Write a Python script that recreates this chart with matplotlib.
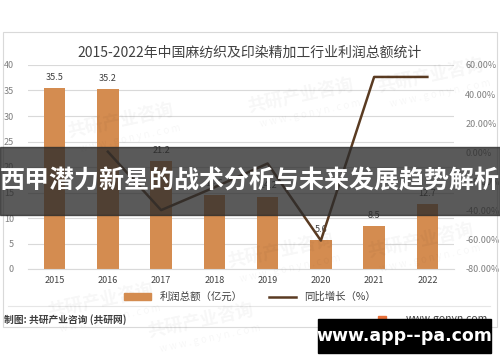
import matplotlib.pyplot as plt
from matplotlib.patches import Rectangle
from matplotlib.lines import Line2D

plt.rcParams['font.family'] = ['Noto Sans CJK SC', 'DejaVu Sans']

# data
years = ['2015', '2016', '2017', '2018', '2019', '2020', '2021', '2022']
profit = [35.5, 35.2, 21.2, 14.6, 14.2, 5.6, 8.5, 12.7]
growth_years = years[1:]
growth = [0.5, -39.6, -24.0, -7.6, -60.5, 51.8, 51.8]
bar_labels = ['35.5', '35.2', '21.2', '14.6', '14.2', '5.6', '8.5', '12.7']

bar_color = '#D48C50'
line_color = '#5A3B22'
grey = '#7F7F7F'

fig = plt.figure(figsize=(5.0, 3.62), dpi=100)
W, H = 500, 362

def fx(px):
    return px / W

def fy(py):
    return 1 - py / H

# outer chart frame
fig.patches.append(Rectangle((fx(3), fy(327)), fx(494), 295 / H, transform=fig.transFigure,
                             fill=False, edgecolor='#D9D9D9', linewidth=0.8))

ax = fig.add_axes([fx(28), fy(269), fx(426), 204 / H])
x = list(range(len(years)))
ax.bar(x, profit, width=0.4, color=bar_color, zorder=2)
for xi, v, lab in zip(x, profit, bar_labels):
    ax.text(xi, v + 1.2, lab, ha='center', va='bottom', fontsize=6.5, color='#404040')
ax.set_ylim(0, 40)
ax.set_xlim(-0.5, len(years) - 0.5)
ax.set_yticks(range(0, 41, 5))
ax.grid(axis='y', color='#D9D9D9', linewidth=0.8, zorder=0)
ax.set_xticks(x)
ax.set_xticklabels(years, fontsize=6.5, color='#404040')
ax.tick_params(axis='y', labelsize=6.5, labelcolor=grey, length=0, pad=10)
ax.tick_params(axis='x', length=0, pad=5)
for s in ax.spines.values():
    s.set_visible(False)
ax.spines['bottom'].set_visible(True)
ax.spines['bottom'].set_color('#D9D9D9')

ax2 = ax.twinx()
ax2.plot(x[1:], growth, color=line_color, linewidth=1.8, zorder=3)
ax2.set_ylim(-80, 60)
ax2.set_yticks(range(-80, 61, 20))
ax2.set_yticklabels(['%.2f%%' % v for v in range(-80, 61, 20)])
ax2.tick_params(axis='y', labelsize=6.5, labelcolor=grey, length=0, pad=8)
for s in ax2.spines.values():
    s.set_visible(False)

# title
fig.text(0.5, fy(53), '2015-2022年中国麻纺织及印染精加工行业利润总额统计', ha='center', va='center',
         fontsize=10, color='#404040')

# legend
handles = [Rectangle((0, 0), 1, 1, color=bar_color),
           Line2D([0], [0], color=line_color, linewidth=1.8)]
fig.legend(handles, ['利润总额（亿元）', '同比增长（%）'], loc='center', bbox_to_anchor=(0.5, fy(297)),
           ncol=2, frameon=False, fontsize=7.5, handlelength=2.6, handleheight=0.6,
           columnspacing=2.5, labelcolor='#404040')

# separator and source
fig.add_artist(Line2D([fx(8), fx(490)], [fy(306), fy(306)], transform=fig.transFigure,
                      color='#E6E6E6', linewidth=0.8))
fig.text(fx(4), fy(320), '制图: 共研产业咨询 (共研网)', ha='left', va='center', fontsize=7,
         color='#404040', fontweight='bold')
fig.patches.append(Rectangle((fx(378), fy(324)), fx(8), 8 / H, transform=fig.transFigure,
                             color='#E8703A'))
fig.text(fx(488), fy(319), 'www.gonyn.com', ha='right', va='center', fontsize=7.5, color='#404040')

# faint watermarks
for (wx, wy) in [(120, 120), (300, 95), (430, 75), (100, 300), (280, 250), (420, 240), (200, 320)]:
    fig.text(fx(wx), fy(wy), '共研产业咨询', ha='center', va='center', fontsize=13, color='#000000',
             alpha=0.035, rotation=12, fontweight='bold')
    fig.text(fx(wx + 10), fy(wy + 18), 'w w w . g o n y n . c o m', ha='center', va='center',
             fontsize=7, color='#000000', alpha=0.035, rotation=12)

# dark banner with headline
fig.patches.append(Rectangle((0, fy(215)), 1, 68 / H, transform=fig.transFigure,
                             color='#2B2B2B', alpha=0.78, zorder=5))
fig.text(0.5, fy(181), '西甲潜力新星的战术分析与未来发展趋势解析', ha='center', va='center',
         fontsize=18, color='white', fontweight='bold', zorder=6)

# bottom black label
fig.patches.append(Rectangle((fx(318), fy(353)), fx(173), 34 / H, transform=fig.transFigure,
                             color='black', zorder=5))
fig.text(fx(404), fy(336), 'www.app--pa.com', ha='center', va='center', fontsize=12.5,
         color='white', fontweight='bold', zorder=6, family=['DejaVu Sans'])

fig.savefig('out.png', dpi=100)
